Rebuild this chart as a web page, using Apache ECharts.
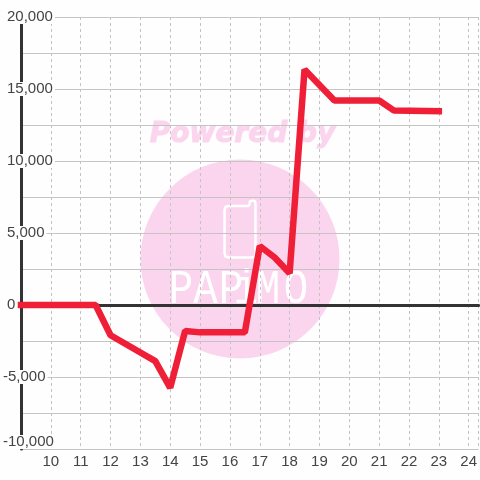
<!DOCTYPE html>
<html><head><meta charset="utf-8">
<style>html,body{margin:0;padding:0;background:#fff}#c{width:480px;height:480px}</style>
<script src="https://cdn.jsdelivr.net/npm/echarts@6/dist/echarts.min.js"></script>
</head><body><div id="c"></div>
<script>
const hours = [9, 11.5, 12, 13, 13.5, 14, 14.5, 15, 16.5, 17, 17.5, 18, 18.5, 19.5, 21, 21.5, 23];
const values = [0, 0, -2100, -3300, -3900, -5750, -1800, -1900, -1900, 4100, 3300, 2200, 16350, 14200, 14200, 13500, 13450];
const logoLetters = ['P', 'A', 'P', 'i', 'M', 'O'];
const logoCenters = [181, 205.5, 231, 246, 268, 296];
const pink = '#fbd5ee';
const chart = echarts.init(document.getElementById('c'), null, {renderer: 'canvas'});
const font = 'Liberation Sans';
const labelStyle = {fontFamily: font, fontSize: 15, color: '#444', lineHeight: 14};
chart.setOption({
  animation: false,
  backgroundColor: '#fefefe',
  grid: {left: 20, right: 0, top: 17, bottom: 31, containLabel: false},
  xAxis: {
    type: 'value', min: 9, max: 24.3333, interval: 1,
    axisLine: {show: true, onZero: true, lineStyle: {color: '#333', width: 3}},
    axisTick: {show: false},
    axisLabel: {color: '#444', fontFamily: font, fontSize: 15, margin: 5, showMinLabel: false, showMaxLabel: false, hideOverlap: false},
    splitLine: {show: true, lineStyle: {color: '#c4c4c4', type: [3, 3], width: 1}}
  },
  yAxis: {
    type: 'value', min: -10000, max: 20000, interval: 5000,
    axisLine: {show: true, onZero: false, lineStyle: {color: '#333', width: 3}},
    axisTick: {show: false},
    axisLabel: {
      margin: 18, align: 'left', verticalAlignMinLabel: 'bottom', ...labelStyle,
      backgroundColor: '#fefefe', padding: [0, 2, 0, 0],
      showMinLabel: true, showMaxLabel: true,
      formatter: v => (v < 0 ? '{n|' : '{p|') + v.toLocaleString('en-US') + '}',
      rich: {n: {...labelStyle}, p: {...labelStyle, padding: [0, 0, 0, 4]}}
    },
    splitLine: {show: true, lineStyle: {color: '#c4c4c4', width: 1}},
    minorSplitLine: {show: true, lineStyle: {color: '#c4c4c4', width: 1}},
    minorTick: {show: false, splitNumber: 2}
  },
  graphic: [
    {type: 'circle', z: -10, shape: {cx: 240, cy: 259, r: 99.5}, style: {fill: pink}},
    {type: 'text', z: -10, x: 242.5, y: 135, style: {text: 'Powered by', fill: pink, stroke: pink, lineWidth: 1, font: 'italic bold 28px "DejaVu Sans"', align: 'center', verticalAlign: 'middle'}},
    {type: 'polyline', z: -9, shape: {points: [[249,206],[228,206],[225.5,207],[224.5,210],[224.5,253],[225.5,256.5],[229,257.5],[252,257.5],[255,256.5],[255.5,253],[255.5,203],[254.5,201],[252.5,200.5],[250,201.5],[249.5,204],[249,206]]}, style: {fill: 'none', stroke: '#fff', lineWidth: 2.5}},
    ...logoLetters.map((ch, i) => ({type: 'text', z: -9, x: logoCenters[i], y: 290, scaleX: 0.85, style: {text: ch, fill: '#fff', font: '48px "Liberation Mono"', align: 'center', verticalAlign: 'middle'}}))
  ],
  series: [{
    type: 'line', data: hours.map((h, i) => [h, values[i]]), showSymbol: false, symbol: 'none', clip: false, z: 5,
    lineStyle: {color: '#f01f38', width: 6.5, cap: 'square', join: 'bevel'}
  }]
});
</script></body></html>
